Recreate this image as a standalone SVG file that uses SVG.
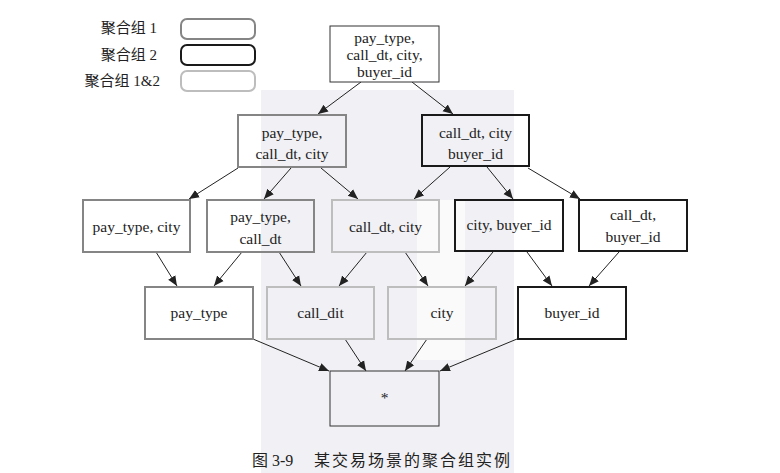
<svg xmlns="http://www.w3.org/2000/svg" width="780" height="473" viewBox="0 0 780 473">
  <defs>
    <style>
      text { font-family: "Liberation Serif", "Times New Roman", serif; font-size: 15.5px; fill: #222; text-anchor: middle; }
      .cjk { font-family: "Liberation Serif", "Noto Sans CJK SC", serif; }
      .lg { text-anchor: end; font-size: 15px; }
      .g1 { fill: none; stroke: #858585; stroke-width: 2; }
      .g2 { fill: none; stroke: #1a1a1a; stroke-width: 2; }
      .g12 { fill: none; stroke: #bdbdbd; stroke-width: 2; }
      .plain { fill: none; stroke: #333; stroke-width: 1; }
      .edge { stroke: #222; stroke-width: 1; fill: none; marker-end: url(#arr); }
    </style>
    <marker id="arr" viewBox="0 0 10 10" refX="10" refY="5" markerWidth="10" markerHeight="10" markerUnits="userSpaceOnUse" orient="auto">
      <path d="M0,0.8 L10,5 L0,9.2 Z" fill="#222"/>
    </marker>
  </defs>
  <rect width="780" height="473" fill="#ffffff"/>
  <g id="watermark">
    <rect x="261" y="90" width="253" height="383" fill="#f1f1f5"/>
    <rect x="417" y="200" width="48" height="160" fill="#fafafb"/>
  </g>

  <g id="legend">
    <text class="lg cjk" x="157" y="33">聚合组 1</text>
    <rect class="g1" x="181" y="19" width="74" height="20" rx="6"/>
    <text class="lg cjk" x="157" y="60">聚合组 2</text>
    <rect class="g2" x="181" y="45" width="74" height="20" rx="6" stroke-width="1.3"/>
    <text class="lg cjk" x="160" y="86">聚合组 1&amp;2</text>
    <rect class="g12" x="181" y="71" width="74" height="20" rx="6"/>
  </g>

  <g id="connectors">
    <line class="edge" x1="361" y1="82" x2="318" y2="114"/>
    <line class="edge" x1="412" y1="82" x2="453" y2="114"/>
    <line class="edge" x1="238" y1="168" x2="189" y2="199"/>
    <line class="edge" x1="291" y1="168" x2="264" y2="199"/>
    <line class="edge" x1="321" y1="168" x2="358" y2="199"/>
    <line class="edge" x1="450" y1="167" x2="414" y2="199"/>
    <line class="edge" x1="487" y1="167" x2="513" y2="199"/>
    <line class="edge" x1="528" y1="168" x2="580" y2="199"/>
    <line class="edge" x1="156" y1="252" x2="177" y2="286"/>
    <line class="edge" x1="242" y1="252" x2="214" y2="286"/>
    <line class="edge" x1="279" y1="252" x2="301" y2="286"/>
    <line class="edge" x1="367" y1="252" x2="339" y2="286"/>
    <line class="edge" x1="405" y1="252" x2="428" y2="286"/>
    <line class="edge" x1="493" y1="252" x2="465" y2="286"/>
    <line class="edge" x1="527" y1="252" x2="552" y2="286"/>
    <line class="edge" x1="619" y1="252" x2="589" y2="286"/>
    <line class="edge" x1="253" y1="339" x2="329" y2="371"/>
    <line class="edge" x1="345" y1="339" x2="366" y2="371"/>
    <line class="edge" x1="427" y1="339" x2="405" y2="371"/>
    <line class="edge" x1="517" y1="339" x2="440" y2="371"/>
  </g>

  <g id="n_all">
    <rect class="plain" x="330" y="26" width="109" height="56" style="fill:#fff"/>
    <text x="384.5" y="43">pay_type,</text>
    <text x="384.5" y="60">call_dt, city,</text>
    <text x="384.5" y="77">buyer_id</text>
  </g>
  <g id="n_pcc">
    <rect class="g1" x="238" y="115" width="108" height="52"/>
    <text x="292" y="138">pay_type,</text>
    <text x="292" y="159">call_dt, city</text>
  </g>
  <g id="n_ccb">
    <rect class="g2" x="422" y="115" width="107" height="51"/>
    <text x="475.5" y="138">call_dt, city</text>
    <text x="475.5" y="159">buyer_id</text>
  </g>
  <g id="n_pc">
    <rect class="g1" x="83" y="200" width="107" height="52"/>
    <text x="136.5" y="232">pay_type, city</text>
  </g>
  <g id="n_pcd">
    <rect class="g1" x="207" y="200" width="107" height="52"/>
    <text x="260.5" y="222">pay_type,</text>
    <text x="260.5" y="244">call_dt</text>
  </g>
  <g id="n_cc">
    <rect class="g12" x="332" y="200" width="107" height="52"/>
    <text x="385.5" y="232">call_dt, city</text>
  </g>
  <g id="n_cb">
    <rect class="g2" x="455" y="200" width="108" height="51"/>
    <text x="509" y="230">city, buyer_id</text>
  </g>
  <g id="n_cdb">
    <rect class="g2" x="579" y="200" width="108" height="51"/>
    <text x="633" y="220">call_dt,</text>
    <text x="633" y="242">buyer_id</text>
  </g>
  <g id="n_p">
    <rect class="g1" x="145" y="287" width="108" height="52"/>
    <text x="199" y="318">pay_type</text>
  </g>
  <g id="n_d">
    <rect class="g12" x="267" y="287" width="107" height="52"/>
    <text x="320.5" y="318">call_dit</text>
  </g>
  <g id="n_c">
    <rect class="g12" x="388" y="287" width="108" height="52"/>
    <text x="442" y="318">city</text>
  </g>
  <g id="n_b">
    <rect class="g2" x="518" y="287" width="108" height="52"/>
    <text x="572" y="318">buyer_id</text>
  </g>
  <g id="n_star">
    <rect class="plain" x="330" y="371" width="109" height="55" stroke="#444"/>
    <text x="384.5" y="403">*</text>
  </g>

  <text id="caption" class="cjk" x="252" y="466" style="text-anchor:start;font-size:16px">图 3-9<tspan x="314" style="letter-spacing:2px">某交易场景的聚合组实例</tspan></text>
</svg>
